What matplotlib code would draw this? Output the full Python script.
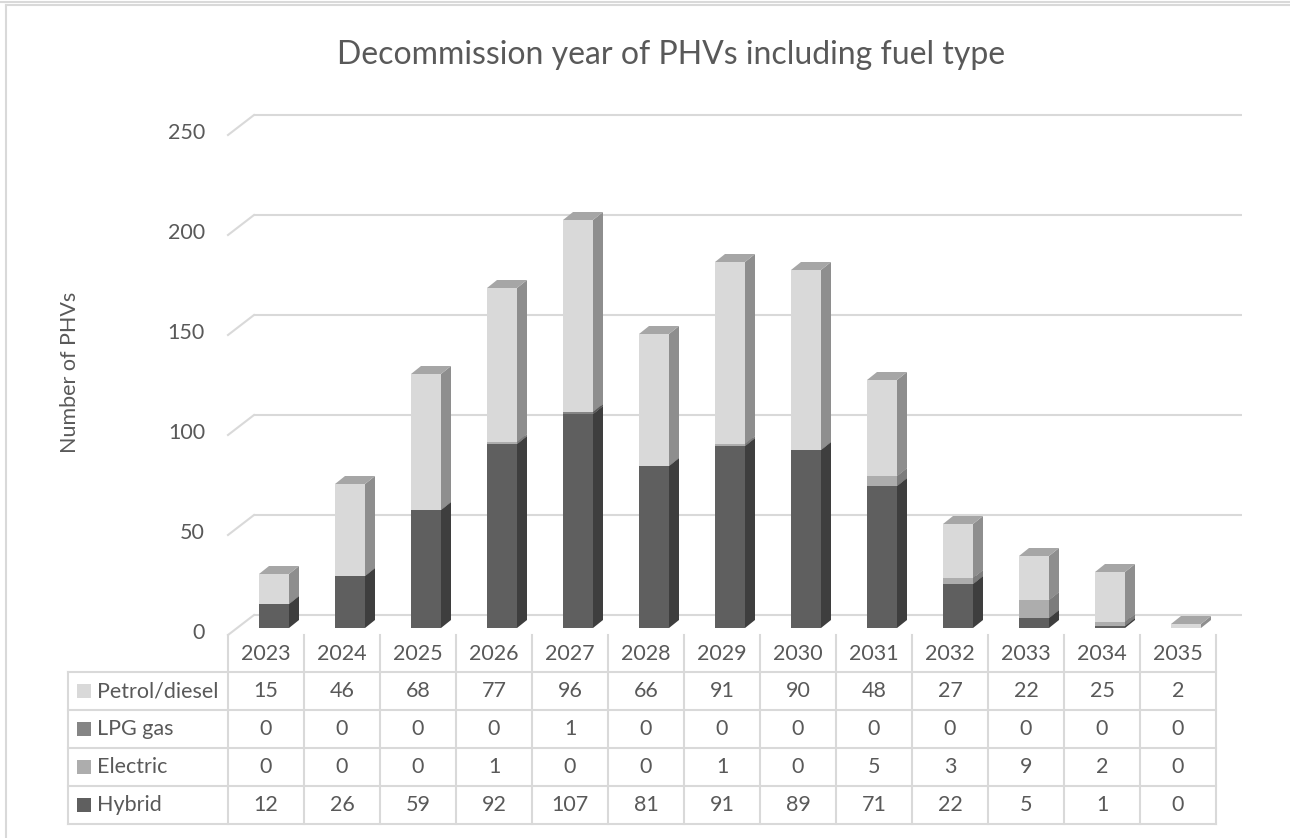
import matplotlib.pyplot as plt
from matplotlib.patches import Polygon, Rectangle

plt.rcParams['font.family'] = ['Lato', 'DejaVu Sans']

years = ["2023", "2024", "2025", "2026", "2027", "2028", "2029",
         "2030", "2031", "2032", "2033", "2034", "2035"]
hybrid = [12, 26, 59, 92, 107, 81, 91, 89, 71, 22, 5, 1, 0]
electric = [0, 0, 0, 1, 0, 0, 1, 0, 5, 3, 9, 2, 0]
lpg = [0, 0, 0, 0, 1, 0, 0, 0, 0, 0, 0, 0, 0]
petrol = [15, 46, 68, 77, 96, 66, 91, 90, 48, 27, 22, 25, 2]

# stacking order (bottom -> top) and table order (top -> bottom)
stack = [("Hybrid", hybrid), ("Electric", electric), ("LPG gas", lpg), ("Petrol/diesel", petrol)]
table_rows = ["Petrol/diesel", "LPG gas", "Electric", "Hybrid"]
yticks = [0, 50, 100, 150, 200, 250]

front = {"Hybrid": "#5f5f5f", "Electric": "#adadad", "LPG gas": "#858585", "Petrol/diesel": "#d9d9d9"}
side = {"Hybrid": "#3e3e3e", "Electric": "#7c7c7c", "LPG gas": "#5a5a5a", "Petrol/diesel": "#8e8e8e"}
top = {"Hybrid": "#4a4a4a", "Electric": "#8f8f8f", "LPG gas": "#6a6a6a", "Petrol/diesel": "#a6a6a6"}

grid_c = "#d9d9d9"
text_c = "#595959"

W, H = 1290, 838
fig = plt.figure(figsize=(W / 100, H / 100), dpi=100)

# overlay in pixel coords (y down) for frame, title, table
ov = fig.add_axes([0, 0, 1, 1], zorder=0)
ov.set_xlim(0, W)
ov.set_ylim(H, 0)
ov.set_axis_off()

ax = fig.add_axes([236 / W, (H - 628) / H, 988 / W, 500 / H], zorder=1)
ax.set_xlim(-0.5, len(years) - 0.5)
ax.set_ylim(0, 250)
ax.set_axis_off()

# pixel -> data unit sizes
p0 = ax.transData.transform((0, 0))
p1 = ax.transData.transform((1, 1))
ux, uy = p1[0] - p0[0], p1[1] - p0[1]

# back wall gridlines + left floor/wall diagonals
bx, by = 18 / ux, 13 / uy
fx, fy = -8 / ux, -7 / uy
x_lo, x_hi = -0.5, len(years) - 0.5
for v in yticks:
    ax.plot([x_lo + bx, x_hi + bx], [v + by, v + by], color=grid_c, lw=1.5,
            zorder=0.5, clip_on=False, solid_capstyle='butt')
    ax.plot([x_lo + fx, x_lo + bx], [v + fy, v + by], color=grid_c, lw=1.5,
            zorder=0.5, clip_on=False)
    ax.text(x_lo - 31 / ux, v - 5 / uy, str(v), ha='right', va='center',
            fontsize=15.5, color=text_c)

# 3D stacked columns
w = 30 / ux
dx, dy = 10 / ux, 8 / uy
base = [0] * len(years)
for k, (name, vals) in enumerate(stack):
    ax.bar(range(len(years)), vals, width=w, bottom=base, color=front[name],
           lw=0, zorder=2 + k)
    for i, h in enumerate(vals):
        if h == 0:
            continue
        b = base[i]
        xr, xl = i + w / 2, i - w / 2
        ax.add_patch(Polygon([(xr, b), (xr + dx, b + dy), (xr + dx, b + h + dy), (xr, b + h)],
                             closed=True, fc=side[name], lw=0, zorder=2.5 + k, clip_on=False))
        ax.add_patch(Polygon([(xl, b + h), (xr, b + h), (xr + dx, b + h + dy), (xl + dx, b + h + dy)],
                             closed=True, fc=top[name], lw=0, zorder=2.5 + k, clip_on=False))
    base = [a + c for a, c in zip(base, vals)]

# data table
edges = [ax.transData.transform((i - 0.5, 0))[0] - 8 for i in range(len(years) + 1)]
lab_left = 68
row_y = [672, 710, 748, 786, 824]
for x in edges:
    ov.plot([x, x], [635, row_y[-1]], color=grid_c, lw=1.5)
ov.plot([lab_left, lab_left], [row_y[0], row_y[-1]], color=grid_c, lw=1.5)
for y in row_y:
    ov.plot([lab_left, edges[-1]], [y, y], color=grid_c, lw=1.5)

centers = [(edges[i] + edges[i + 1]) / 2 for i in range(len(years))]
for c, yr in zip(centers, years):
    ov.text(c, 654, yr, ha='center', va='center', fontsize=15.5, color=text_c)

data = dict(stack)
for r, name in enumerate(table_rows):
    yc = (row_y[r] + row_y[r + 1]) / 2
    ov.add_patch(Rectangle((77, yc - 7), 14, 14, fc=front[name], lw=0))
    ov.text(97, yc, name, ha='left', va='center', fontsize=15.5, color=text_c)
    for c, v in zip(centers, data[name]):
        ov.text(c, yc, str(v), ha='center', va='center', fontsize=15.5, color=text_c)

# titles
ov.text(671, 55, "Decommission year of PHVs including fuel type", ha='center', va='center',
        fontsize=23, color=text_c)
ov.text(70, 372, "Number of PHVs", ha='center', va='center', rotation=90,
        fontsize=15.5, color=text_c)

# chart frame (left and top edges only are visible)
ov.plot([6, 6], [5, H], color=grid_c, lw=1.5)
ov.plot([6, W], [5, 5], color=grid_c, lw=1.5)
ov.plot([0, W], [2, 2], color=grid_c, lw=1.5)

fig.savefig("out.png", dpi=100)
